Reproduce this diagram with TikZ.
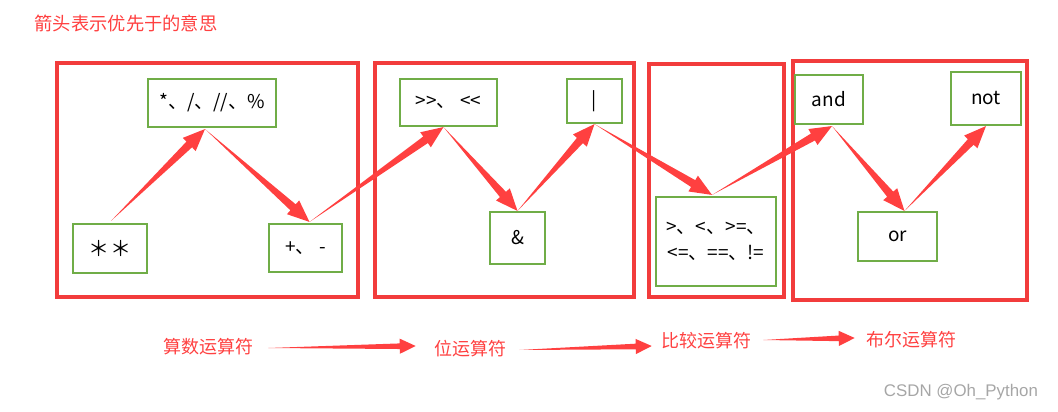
\documentclass[tikz,border=0pt]{standalone}
\usepackage{fontspec}
\setmainfont{Noto Sans CJK SC}
\newfontfamily\markfont{Liberation Sans}
\usetikzlibrary{calc}
\definecolor{boxred}{RGB}{242,60,60}
\definecolor{arrowred}{RGB}{255,64,64}
\definecolor{opgreen}{RGB}{112,173,71}

% tapered arrow: from, to, head length, head half width, shaft half width
\newcommand\taper[5]{%
  \path ($(#2)!#3!(#1)$) coordinate (tp-h);
  \fill[arrowred] (#1) -- ($(tp-h)!#5!90:(#2)$) -- ($(tp-h)!#4!90:(#2)$) -- (#2)
    -- ($(tp-h)!#4!-90:(#2)$) -- ($(tp-h)!#5!-90:(#2)$) -- cycle;
}

\begin{document}
\begin{tikzpicture}[x=0.025cm, y=-0.025cm,
  op/.style={draw=opgreen, line width=1.5pt, inner sep=0pt, align=center,
    font=\fontsize{13.5}{19}\selectfont},
  group/.style={draw=boxred, line width=2.6pt},
  cat/.style={text=arrowred, inner sep=0pt, font=\fontsize{12.8}{15}\selectfont}]
  \useasboundingbox (0,0) rectangle (1058,412);
  \node[cat, font=\fontsize{13}{16}\selectfont] (note) at (126,24) {箭头表示优先于的意思};
  % operator groups
  \draw[group] (57,63) rectangle (358,297);
  \draw[group] (375,63) rectangle (634,297);
  \draw[group] (649,64) rectangle (784,297);
  \draw[group] (793,61) rectangle (1027,300);
  % arithmetic
  \node[op, minimum width=1.85cm, minimum height=1.225cm] (pow) at (110,248.5) {\raisebox{-3pt}{\fontsize{15}{15}\selectfont ＊＊}};
  \node[op, minimum width=3.2cm, minimum height=1.2cm] (mul) at (212,103) {*、/、//、\%};
  \node[op, minimum width=1.825cm, minimum height=1.2cm] (add) at (305.5,248) {+、 -};
  % bitwise
  \node[op, minimum width=2.425cm, minimum height=1.175cm] (shift) at (448.5,102.5) {>{}>、 <{}<};
  \node[op, minimum width=1.375cm, minimum height=1.3cm] (band) at (517.5,238) {\&};
  \node[op, minimum width=1.375cm, minimum height=1.1cm] (bor) at (594.5,101) {|};
  % comparison
  \node[op, minimum width=3cm, minimum height=2.225cm] (cmp) at (716,241.5) {>、<、>=、\\<=、==、!=};
  % boolean
  \node[op, minimum width=1.7cm, minimum height=1.225cm] (land) at (829,99.5) {and};
  \node[op, minimum width=1.975cm, minimum height=1.225cm] (lor) at (897.5,236.5) {or};
  \node[op, minimum width=1.75cm, minimum height=1.325cm] (lnot) at (986,98.5) {not};
  % joints of the zigzag
  \coordinate (j0) at ($(pow.north)+(1,-2)$);
  \coordinate (j1) at ($(mul.south)+(-7,1)$);
  \coordinate (j2) at ($(add.north)+(4,-1)$);
  \coordinate (j3) at ($(shift.south)+(-5,0)$);
  \coordinate (j4) at (band.north);
  \coordinate (j5) at (bor.south);
  \coordinate (j6) at ($(cmp.north)+(-4,-1)$);
  \coordinate (j7) at ($(land.south)+(3,1)$);
  \coordinate (j8) at ($(lor.north)+(7,0)$);
  \coordinate (j9) at (lnot.south);
  \foreach \a/\b in {j0/j1, j1/j2, j2/j3, j3/j4, j4/j5, j5/j6, j6/j7, j7/j8, j8/j9} {
    \taper{\a}{\b}{0.55cm}{0.23cm}{0.1cm}
  }
  % categories
  \node[cat] (arith) at (208,347) {算数运算符};
  \node[cat] (bitop) at (470,349) {位运算符};
  \node[cat] (cmpop) at (706,341) {比较运算符};
  \node[cat] (boolop) at (911,340) {布尔运算符};
  \coordinate (b1s) at ($(arith.east)+(15,1)$);
  \coordinate (b1e) at ($(bitop.west)+(-18,-3)$);
  \coordinate (b2s) at ($(bitop.east)+(13,1)$);
  \coordinate (b2e) at ($(cmpop.west)+(-9,5)$);
  \coordinate (b3s) at ($(cmpop.east)+(12,-1)$);
  \coordinate (b3e) at ($(boolop.west)+(-11,-2)$);
  \taper{b1s}{b1e}{0.4cm}{0.19cm}{0.07cm}
  \taper{b2s}{b2e}{0.4cm}{0.19cm}{0.07cm}
  \taper{b3s}{b3e}{0.4cm}{0.19cm}{0.07cm}
  \node[text=gray!70, font=\markfont\fontsize{12}{14}\selectfont] (mark) at (961,392) {CSDN @Oh\_Python};
\end{tikzpicture}
\end{document}
